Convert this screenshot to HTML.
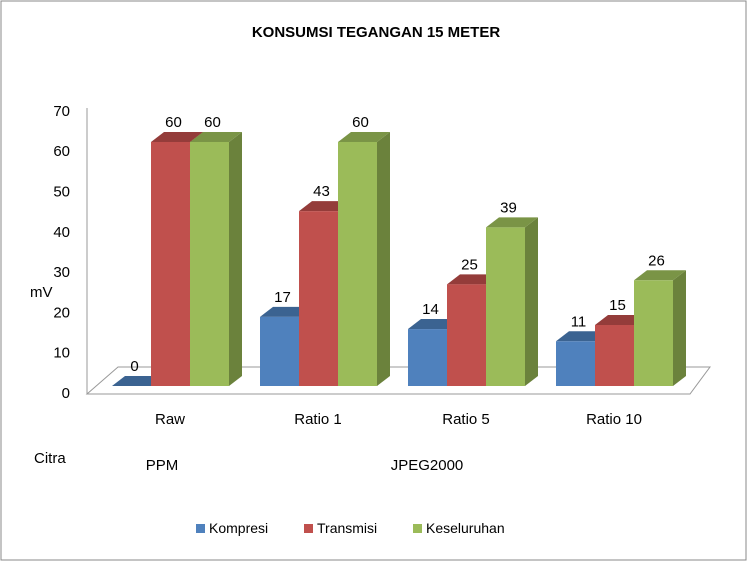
<!DOCTYPE html>
<html><head><meta charset="utf-8"><style>
body{margin:0;background:#fff;}
svg{font-family:"Liberation Sans",sans-serif;}
</style></head><body>
<svg id="c" width="748" height="562">
<rect x="1" y="1" width="745" height="559" fill="#fff" stroke="#888"/>
<text x="376" y="37" text-anchor="middle" font-size="15" font-weight="bold">KONSUMSI TEGANGAN 15 METER</text>
<line x1="87" y1="108" x2="87" y2="394" stroke="#999"/>
<polygon points="87,394 118,367 710,367 690,394" fill="none" stroke="#999"/>
<text x="30" y="297" font-size="15">mV</text>
<text x="34" y="463" font-size="15">Citra</text>
<text x="162" y="470" font-size="15" text-anchor="middle">PPM</text>
<text x="427" y="470" font-size="15" text-anchor="middle">JPEG2000</text>
<g id="ticks"></g><g id="bars"></g><g id="cats"></g>
<g>
<rect x="196" y="524" width="9" height="9" fill="#4F81BD"/>
<text x="209" y="533" font-size="14">Kompresi</text>
<rect x="304" y="524" width="9" height="9" fill="#C0504D"/>
<text x="317" y="533" font-size="14">Transmisi</text>
<rect x="413" y="524" width="9" height="9" fill="#9BBB59"/>
<text x="426" y="533" font-size="14">Keseluruhan</text>
</g>
</svg>
<script>
const categories=["Raw","Ratio 1","Ratio 5","Ratio 10"];
const kompresi=[0,17,14,11];
const transmisi=[60,43,25,15];
const keseluruhan=[60,60,39,26];
const yTicks=[0,10,20,30,40,50,60,70];
const series=[kompresi,transmisi,keseluruhan];
const names=["kompresi","transmisi","keseluruhan"];
const front=["#4F81BD","#C0504D","#9BBB59"],top_=["#3B6391","#943C3A","#7A9446"],side=["#385D8A","#8C3836","#6B823C"];
const NS="http://www.w3.org/2000/svg";
const base=386,k=4.067,bw=39,dx=13,dy=10;
function y(v){return base-v*k;}
function gx(i){return 112+i*148;}
function mk(t,a,p){const e=document.createElementNS(NS,t);for(const q in a)e.setAttribute(q,a[q]);p.appendChild(e);return e;}
const T=document.getElementById('ticks');
yTicks.forEach(v=>{const t=mk('text',{x:70,y:393-v*4.03+5,'text-anchor':'end','font-size':15},T);t.textContent=v;

});
const B=document.getElementById('bars'),C=document.getElementById('cats');
categories.forEach((c,i)=>{
 const t=mk('text',{x:gx(i)+58,y:424,'text-anchor':'middle','font-size':15},C);t.textContent=c;
 
 
 series.forEach((s,j)=>{
  const g=mk('g',{},B);
  
  
  const x0=gx(i)+j*bw, yt=y(s[i]);
  mk('polygon',{points:`${x0+bw},${yt} ${x0+bw+dx},${yt-dy} ${x0+bw+dx},${base-dy} ${x0+bw},${base}`,fill:side[j]},g);
  mk('polygon',{points:`${x0},${yt} ${x0+dx},${yt-dy} ${x0+bw+dx},${yt-dy} ${x0+bw},${yt}`,fill:top_[j]},g);
  if(s[i]>0)mk('rect',{x:x0,y:yt,width:bw,height:base-yt,fill:front[j]},g);
  const l=mk('text',{x:x0+bw/2+3,y:yt-dy-5,'text-anchor':'middle','font-size':15},g);l.textContent=s[i];
 });
});
</script>
</body></html>
